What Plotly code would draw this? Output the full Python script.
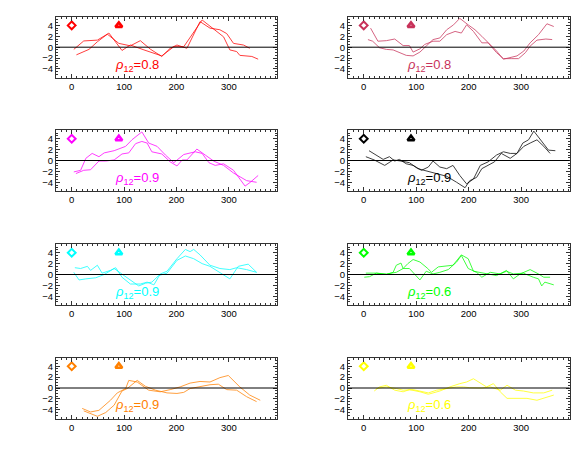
import plotly.graph_objects as go

colors = ["#FF0000", "#C8325A", "#FF00FF", "#000000", "#00FFFF", "#00FF00", "#FF8000", "#FFFF00"]
rho_labels = ["0.8", "0.8", "0.9", "0.9", "0.9", "0.6", "0.9", "0.6"]

# panel 1 (red)
p1a_x = [4, 23, 49, 68, 90, 112, 131, 150, 172, 188, 201, 220, 245, 264, 283, 296, 309, 328, 340]
p1a_y = [-0.4, 1.15, 1.3, 2.4, 0.7, 0.25, 1.2, -0.35, -1.7, -0.2, 0.4, -0.2, 4.7, 3.5, 3.2, 2.5, 0.7, 0.4, -0.2]
p1b_x = [9, 23, 33, 49, 71, 96, 112, 138, 172, 195, 214, 249, 268, 290, 302, 315, 321, 344, 356]
p1b_y = [-1.4, -0.8, -0.4, 1.0, 2.6, -0.6, 0.4, -0.5, -1.6, 0.1, 0.1, 5.0, 3.5, 1.9, -0.5, -0.8, -1.5, -1.7, -2.2]

# panel 2 (dark pink)
p2a_x = [13, 27, 43, 59, 75, 87, 94, 107, 116, 132, 145, 158, 174, 186, 196, 209, 225, 237, 253, 266, 282, 295, 308, 317, 330, 347, 359]
p2a_y = [3.5, 1.1, 1.2, 1.5, 0.3, 0.3, -0.9, -0.3, 0.5, 1.1, 1.1, 2.3, 2.9, 2.6, 4.1, 2.9, 0.8, 0.8, -1.0, -2.1, -2.1, -2.1, -1.0, 0.2, 1.3, 1.5, 1.4]
p2b_x = [8, 17, 30, 43, 56, 68, 81, 94, 107, 119, 132, 145, 158, 171, 183, 199, 212, 225, 241, 253, 266, 279, 292, 305, 317, 333, 349, 362]
p2b_y = [1.4, 1.1, -0.1, -0.4, -0.5, -1.0, -1.5, -1.6, -0.9, 0.2, 1.4, 1.7, 3.2, 4.1, 5.3, 4.1, 3.2, 2.0, 0.5, -0.7, -2.2, -1.9, -1.6, -0.7, 0.8, 2.3, 4.3, 3.8]

# panel 3 (magenta)
p3a_x = [4, 17, 27, 39, 52, 62, 81, 103, 115, 134, 147, 163, 179, 195, 214, 236, 249, 262, 274, 290, 309, 331, 341, 356]
p3a_y = [-2.1, -1.8, 0.4, 1.3, 0.7, 1.4, 1.8, 2.6, 3.8, 5.25, 3.2, 2.6, 1.0, -0.4, 1.1, 1.6, 1.3, -0.4, -0.9, -0.6, -1.8, -4.7, -4.0, -2.75]
p3b_x = [8, 23, 36, 52, 65, 81, 96, 109, 122, 134, 144, 153, 172, 188, 201, 211, 220, 239, 255, 271, 290, 309, 334, 353]
p3b_y = [-2.4, -1.8, -1.7, -0.1, -0.1, 0.1, 1.2, 1.4, 3.1, 3.5, 3.2, 1.6, 1.2, -0.25, -1.0, 0.1, 0.1, 2.1, 1.0, -0.1, -0.9, -2.3, -3.7, -4.0]

# panel 4 (black)
p4a_x = [10, 24, 37, 49, 59, 68, 81, 94, 110, 123, 132, 145, 158, 170, 183, 196, 209, 222, 237, 253, 266, 279, 292, 303, 314, 324, 336, 352, 365]
p4a_y = [1.8, 1.0, 0.2, 0.7, -0.1, 0.2, -0.6, -0.9, -1.8, -1.2, -0.1, -1.2, -1.5, -0.9, -2.75, -4.3, -3.4, -0.9, -0.25, 1.0, 1.6, 1.3, 1.3, 3.2, 3.8, 5.4, 3.8, 1.9, 1.8]
p4b_x = [4, 20, 40, 56, 71, 87, 103, 116, 126, 139, 158, 177, 193, 202, 215, 225, 237, 249, 262, 279, 292, 305, 317, 330, 343, 355]
p4b_y = [0.7, 0.1, -0.9, 0.1, -0.1, -0.4, -1.5, -1.8, -2.1, -2.4, -2.9, -4.0, -5.0, -3.7, -3.1, -1.5, -0.9, -0.25, 1.3, 0.4, 1.3, 2.6, 3.2, 3.8, 2.6, 1.3]

# panel 5 (cyan)
p5a_x = [6, 17, 30, 36, 49, 58, 74, 84, 96, 112, 131, 144, 157, 169, 182, 201, 217, 226, 233, 245, 264, 283, 302, 315, 334, 353]
p5a_y = [1.25, 1.1, 1.5, 0.75, 1.7, 0.25, 0.75, 1.25, -0.5, -1.75, -1.75, -1.4, -1.9, 0.1, 0.6, 2.9, 4.6, 4.2, 4.6, 3.6, 1.7, 1.1, 0.9, 1.25, 0.9, 0.4]
p5b_x = [4, 14, 27, 46, 62, 81, 100, 112, 128, 141, 153, 166, 182, 201, 217, 233, 249, 264, 283, 302, 318, 337, 353]
p5b_y = [0.4, -1.0, -0.8, -0.6, 0.0, 1.1, -0.2, -1.0, -2.1, -1.6, -1.4, -0.2, 0.25, 2.6, 3.4, 2.9, 2.0, 1.5, 0.4, -0.8, 1.5, 1.9, 0.4]

# panel 6 (green)
p6a_x = [4, 24, 43, 56, 62, 71, 75, 84, 94, 107, 122, 129, 142, 158, 170, 186, 199, 209, 221, 234, 253, 272, 285, 298, 317, 333, 343, 355]
p6a_y = [0.25, 0.25, 0.0, 0.4, 1.7, 2.1, 1.1, 2.0, 2.75, 2.3, 1.1, 0.4, 1.4, 1.5, 1.7, 3.6, 2.9, 0.6, 0.4, 0.25, -0.2, 0.75, -0.8, 0.1, 0.9, 0.1, -0.5, -0.5]
p6b_x = [1, 11, 24, 43, 62, 75, 87, 107, 119, 132, 145, 161, 177, 186, 199, 215, 225, 241, 260, 272, 285, 304, 323, 333, 339, 345, 362]
p6b_y = [-0.5, -0.4, 0.25, 0.1, 0.4, 1.1, 1.1, -1.0, 0.6, 0.1, 0.4, 0.9, 2.3, 3.5, 1.1, 0.4, -0.5, 0.4, 0.1, 0.6, 0.1, 0.25, -0.5, -0.8, -2.1, -1.4, -1.9]

# panel 7 (orange)
p7a_x = [20, 36, 52, 74, 87, 103, 109, 125, 147, 169, 188, 207, 226, 245, 264, 283, 299, 321, 340, 360]
p7a_y = [-3.75, -4.4, -4.1, -2.25, -0.9, -0.1, 1.4, 1.1, -0.4, -0.7, -0.3, 0.2, 0.9, 1.2, 1.1, 1.9, 2.3, 0.2, -1.3, -2.25]
p7b_x = [23, 49, 65, 81, 96, 106, 125, 141, 160, 182, 201, 214, 226, 245, 264, 280, 296, 315, 334, 353]
p7b_y = [-4.2, -5.2, -4.5, -3.15, -0.55, -0.1, 1.4, 0.3, -0.4, -0.9, -1.0, -0.8, -0.1, 0.3, 0.6, 0.7, -0.3, -0.4, -1.6, -2.5]

# panel 8 (yellow)
p8a_x = [20, 30, 43, 59, 75, 87, 107, 123, 145, 164, 183, 196, 209, 225, 234, 247, 260, 273, 292, 311, 330, 343, 362]
p8a_y = [-0.55, 0.2, 0.5, -0.4, -0.7, -0.3, -0.7, -1.15, -0.55, 0.2, 0.8, 1.1, 1.7, 0.8, 0.2, 0.8, -0.7, -1.9, -1.9, -1.9, -2.25, -1.9, -1.3]
p8b_x = [24, 43, 62, 75, 94, 113, 123, 139, 158, 177, 190, 202, 225, 241, 260, 273, 289, 304, 323, 343, 359]
p8b_y = [-0.1, 0.2, -0.1, -0.4, -0.3, -0.7, -0.9, -0.4, -0.1, 0.2, 0.2, 0.05, 0.0, 0.2, -0.4, 0.5, -0.4, -0.55, -0.9, -0.9, -0.4]

series = [
    (p1a_x, p1a_y, p1b_x, p1b_y),
    (p2a_x, p2a_y, p2b_x, p2b_y),
    (p3a_x, p3a_y, p3b_x, p3b_y),
    (p4a_x, p4a_y, p4b_x, p4b_y),
    (p5a_x, p5a_y, p5b_x, p5b_y),
    (p6a_x, p6a_y, p6b_x, p6b_y),
    (p7a_x, p7a_y, p7b_x, p7b_y),
    (p8a_x, p8a_y, p8b_x, p8b_y),
]

marker_x = [0, 90]
marker_y = [4, 4]
label_x = 78
label_y = -3.3

x_ticks = [0, 100, 200, 300]
y_ticks = [-4, -2, 0, 2, 4]

# the page has an 8px body margin: lay out in a figure offset by 8px
OFF = 8
W, H = 586 - 2 * OFF, 453 - 2 * OFF
col_px = [[56, 277], [348, 569.5]]
col_dom = [[(a - OFF) / W, (b - OFF) / W] for a, b in col_px]
row_tops = [16.7, 130, 244, 357.5]
row_h = 61
row_dom = [[1 - (t - OFF + row_h) / H, 1 - (t - OFF) / H] for t in row_tops]

fig = go.Figure()
layout = dict(
    width=W, height=H, margin=dict(l=0, r=0, t=0, b=0),
    paper_bgcolor="white", plot_bgcolor="white", showlegend=False,
    font=dict(family="Liberation Sans, Arial, sans-serif", color="black", size=9),
)
annotations = []
shapes = []
for i, (ax_, ay_, bx_, by_) in enumerate(series):
    n = i + 1
    r, c = divmod(i, 2)
    xa = "x" if n == 1 else f"x{n}"
    ya = "y" if n == 1 else f"y{n}"
    col = colors[i]
    fig.add_trace(go.Scatter(x=ax_, y=ay_, mode="lines", line=dict(color=col, width=1), opacity=0.75,
                             xaxis=xa, yaxis=ya, hoverinfo="skip"))
    fig.add_trace(go.Scatter(x=bx_, y=by_, mode="lines", line=dict(color=col, width=1), opacity=0.75,
                             xaxis=xa, yaxis=ya, hoverinfo="skip"))
    fig.add_trace(go.Scatter(x=[marker_x[0]], y=[marker_y[0]], mode="markers",
                             marker=dict(symbol="diamond-open", size=6, color=col, line=dict(width=2, color=col)),
                             xaxis=xa, yaxis=ya))
    fig.add_trace(go.Scatter(x=[marker_x[1]], y=[marker_y[1]], mode="markers",
                             marker=dict(symbol="triangle-up-open", size=6, color=col, line=dict(width=2.6, color=col)),
                             xaxis=xa, yaxis=ya))
    common = dict(showline=True, linecolor="#333333", linewidth=1, mirror="allticks",
                  ticks="inside", ticklen=4, tickcolor="#333333", showgrid=False, zeroline=False,
                  tickfont=dict(size=9.5, color="black"))
    layout["xaxis" if n == 1 else f"xaxis{n}"] = dict(
        domain=col_dom[c], anchor=ya, range=[-30, 392], tickvals=x_ticks,
        minor=dict(ticks="inside", ticklen=2, dtick=10, tick0=0, tickcolor="#333333", showgrid=False),
        **common)
    layout["yaxis" if n == 1 else f"yaxis{n}"] = dict(
        domain=row_dom[r], anchor=xa, range=[-5.6, 5.6], tickvals=y_ticks,
        minor=dict(ticks="inside", ticklen=2, dtick=0.5, tick0=0, tickcolor="#333333", showgrid=False),
        **common)
    shapes.append(dict(type="line", xref=f"{xa} domain", yref=ya, x0=0, x1=1, y0=0, y1=0,
                       line=dict(color="black", width=1)))
    annotations.append(dict(x=label_x, y=label_y, xref=xa, yref=ya, xanchor="left", yanchor="middle",
                            showarrow=False, text=f"<i>ρ</i><sub>12</sub>={rho_labels[i]}",
                            font=dict(size=13, color=col, family="Liberation Sans, Arial, sans-serif")))

layout["annotations"] = annotations
layout["shapes"] = shapes
fig.update_layout(**layout)
fig.write_html("out.html")
